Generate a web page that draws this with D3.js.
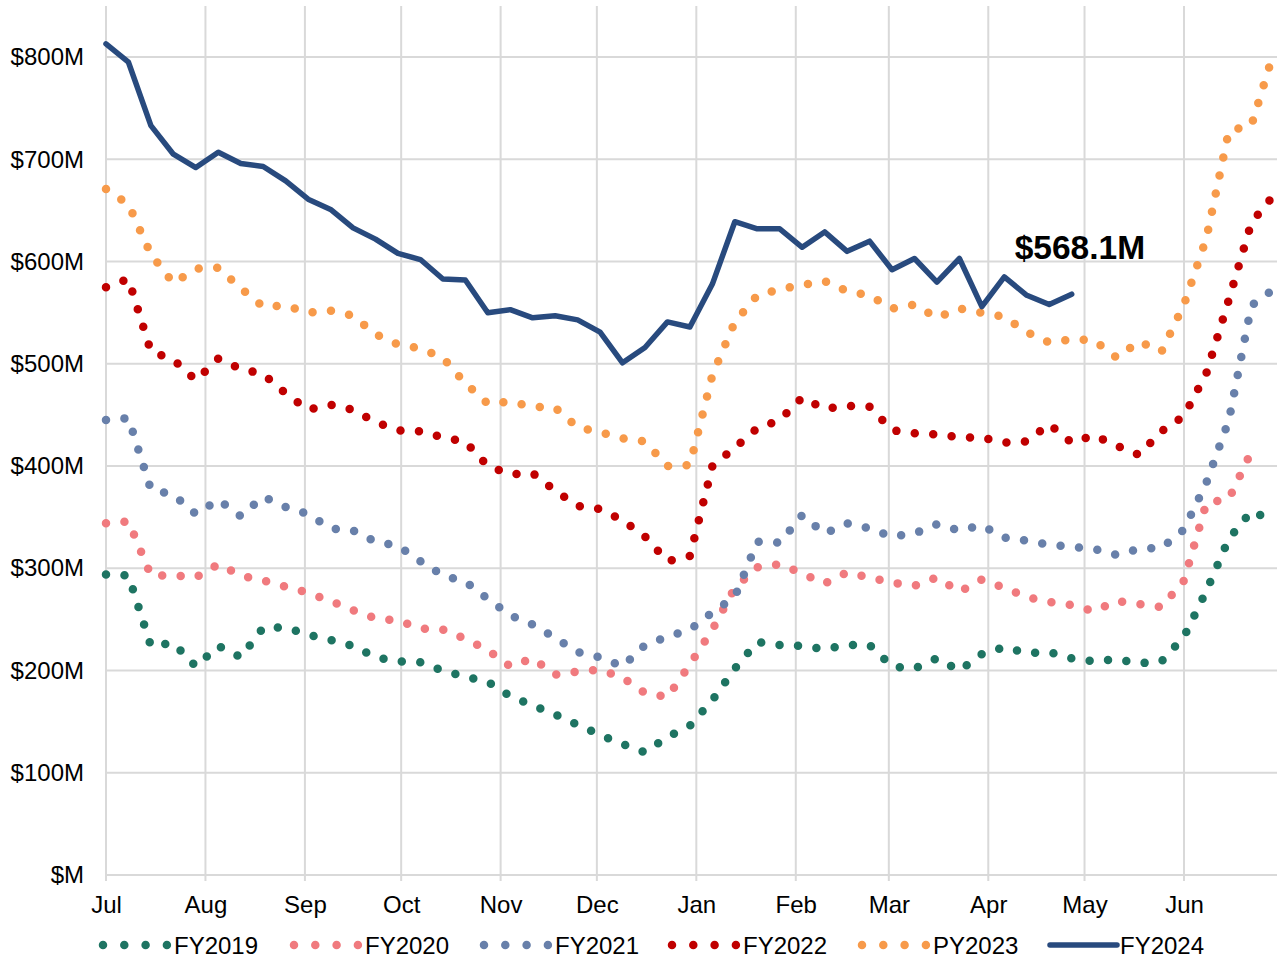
<!DOCTYPE html>
<html>
<head>
<meta charset="utf-8">
<script src="https://cdn.jsdelivr.net/npm/d3@7"></script>
<style>
  html, body { margin: 0; padding: 0; background: #fff; }
  svg { display: block; font-family: "Liberation Sans", Arial, sans-serif; }
</style>
</head>
<body>
<svg id="chart" width="1277" height="960"></svg>
<script>
// ---------- data ----------
const months = ["Jul","Aug","Sep","Oct","Nov","Dec","Jan","Feb","Mar","Apr","May","Jun"];
const monthStartDays = [0,31,62,92,123,153,184,215,244,275,305,336];
const yTicks = [0,100,200,300,400,500,600,700,800];

const fy2019 = [294,293,224,227,204,224,213,242,242,235,230,224,213,209,208,200,194,189,175,166,157,147,137,128,120,135,146,171,202,228,225,224,221,225,225,204,202,212,200,216,223,217,218,212,209,211,207,209,233,278,329,356,346];
const fy2020 = [344,346,293,293,291,304,293,288,282,276,268,259,251,249,241,240,231,220,204,212,196,199,201,193,178,174,206,240,281,301,304,295,285,296,291,286,283,291,277,289,281,272,267,264,258,268,265,262,288,364,368,414];
const fy2021 = [445,447,377,372,353,367,351,370,360,353,339,337,326,322,307,293,287,270,254,245,232,218,213,204,225,233,240,257,272,326,325,352,334,344,339,331,334,343,337,342,330,327,323,321,319,313,319,320,338,384,445,557,573];
const fy2022 = [575,583,512,504,484,505,495,490,471,455,460,455,443,435,434,428,424,400,392,393,376,361,358,347,331,307,312,400,418,437,445,467,456,459,458,435,432,431,428,428,423,424,441,423,430,420,411,434,449,491,563,638,665];
const py2023 = [671,656,607,579,593,594,574,556,557,550,552,547,529,519,515,506,481,461,463,458,457,438,433,427,424,400,401,489,541,567,573,577,581,571,567,554,558,545,554,550,546,531,521,524,523,506,522,512,558,623,728,733,805];
const fy2024 = [813,795,733,705,692,707,696,693,679,661,651,633,622,608,602,583,582,550,553,545,547,543,531,501,516,541,536,578,639,632,632,614,629,610,620,592,603,580,603,556,585,567,558,568.1];

const seriesNames = ["FY2019","FY2020","FY2021","FY2022","PY2023","FY2024"];
const seriesData = [fy2019, fy2020, fy2021, fy2022, py2023, fy2024];
const seriesColors = ["#1e7462","#f07a7e","#6880aa","#c00000","#f79a4a","#284a7e"];
const lastLabel = "$568.1M";

// ---------- layout ----------
const svg = d3.select("#chart");
const W = 1277;
const x = d3.scaleLinear().domain([0, 366]).range([106, 106 + 366 * 3.2083]);
const y = d3.scaleLinear().domain([0, 850]).range([875, 6]);
const grid = "#d9d9d9";

// horizontal gridlines
svg.append("g").selectAll("line").data(yTicks).join("line")
  .attr("x1", x(0)).attr("x2", W)
  .attr("y1", d => y(d)).attr("y2", d => y(d))
  .attr("stroke", grid).attr("stroke-width", 2);

// vertical gridlines
svg.append("g").selectAll("line").data(monthStartDays).join("line")
  .attr("x1", d => x(d)).attr("x2", d => x(d))
  .attr("y1", y(850)).attr("y2", y(0) + 6)
  .attr("stroke", grid).attr("stroke-width", 2);

// y axis labels
const yAxis = svg.append("g").attr("transform", `translate(${x(0)},0)`)
  .call(d3.axisLeft(y).tickValues(yTicks).tickSize(0).tickPadding(22)
    .tickFormat(d => "$" + (d === 0 ? "" : d) + "M"));
yAxis.select(".domain").remove();
yAxis.selectAll("text").attr("font-size", 24).attr("fill", "#000")
  .attr("font-family", "Liberation Sans, Arial, sans-serif");

// x axis labels
const xAxis = svg.append("g").attr("transform", `translate(0,${y(0)})`)
  .call(d3.axisBottom(x).tickValues(monthStartDays).tickSize(0).tickPadding(21)
    .tickFormat((d, i) => months[i]));
xAxis.select(".domain").remove();
xAxis.selectAll("text").attr("font-size", 24).attr("fill", "#000")
  .attr("font-family", "Liberation Sans, Arial, sans-serif");

// series
const line = d3.line().x((d, i) => x(i * 7)).y(d => y(d));
const plot = svg.append("g");
seriesData.forEach((arr, k) => {
  const solid = k === 5;
  plot.append("path")
    .attr("d", line(arr))
    .attr("fill", "none")
    .attr("stroke", seriesColors[k])
    .attr("stroke-width", solid ? 5.5 : 8.5)
    .attr("stroke-linecap", "round")
    .attr("stroke-linejoin", "round")
    .attr("stroke-dasharray", solid ? null : "0 18.5");
});

// last value label
svg.append("text")
  .attr("x", x((fy2024.length - 1) * 7) - 57)
  .attr("y", y(fy2024[fy2024.length - 1]) - 35)
  .attr("font-size", 33.5).attr("font-weight", "bold").attr("fill", "#000")
  .text(lastLabel);

// legend
const legendStarts = [103, 294, 484, 672, 862, 1050];
const lg = svg.append("g");
seriesNames.forEach((name, k) => {
  const x0 = legendStarts[k];
  const solid = k === 5;
  lg.append("line")
    .attr("x1", x0).attr("x2", x0 + (solid ? 67 : 64.5))
    .attr("y1", 945).attr("y2", 945)
    .attr("stroke", seriesColors[k])
    .attr("stroke-width", solid ? 5.5 : 8.5)
    .attr("stroke-linecap", "round")
    .attr("stroke-dasharray", solid ? null : "0 21.3");
  lg.append("text")
    .attr("x", x0 + (solid ? 70 : 71)).attr("y", 953.5)
    .attr("font-size", 24).attr("fill", "#000")
    .text(name);
});
</script>
</body>
</html>
